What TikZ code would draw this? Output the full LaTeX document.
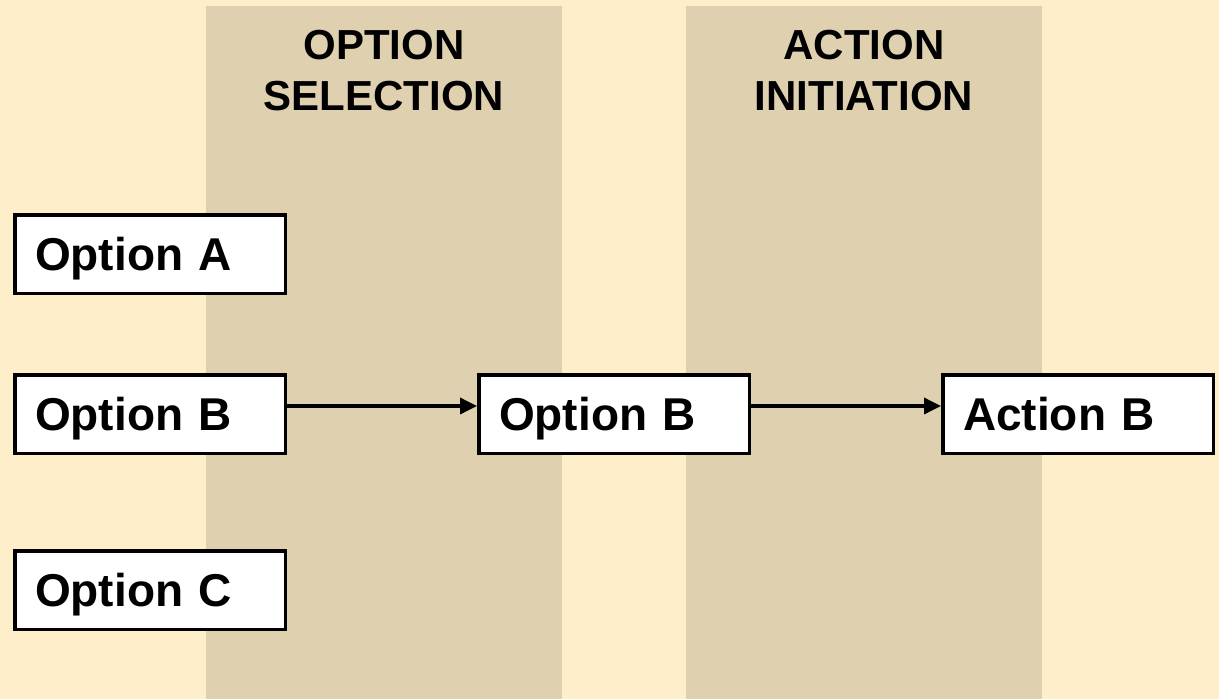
\documentclass[tikz,border=0pt]{standalone}
\usepackage{fontspec}
\setmainfont{Liberation Sans}
\usetikzlibrary{arrows.meta}
\definecolor{paper}{HTML}{FEEECA}
\definecolor{band}{HTML}{DFD1B0}
\tikzset{
  stagebox/.style={draw=black, fill=white, line width=3.5pt, anchor=north west,
    text width=230pt, inner xsep=20.25pt, inner ysep=0pt, align=left,
    minimum height=78.5pt, text height=33pt, text depth=0pt,
    font=\fontsize{46}{50}\selectfont\bfseries},
  header/.style={align=center, font=\fontsize{42}{51}\selectfont\bfseries, inner sep=0pt},
  flow/.style={line width=3.5pt, -{Triangle[length=17pt, width=16pt]}}
}
\begin{document}
\begin{tikzpicture}[x=1pt, y=-1pt]
  % page and phase bands
  \fill[paper] (0,0) rectangle (1219,699);
  \useasboundingbox (0,0) rectangle (1219,699);
  \fill[band] (206,6) rectangle (562,699);
  \fill[band] (686,6) rectangle (1042,699);

  % phase headings (base = baseline of the last line)
  \node[header, anchor=base] (hsel) at (384,110) {OPTION\\SELECTION};
  \node[header, anchor=base] (hact) at (864,110) {ACTION\\INITIATION};

  % options and outcome (anchored at the outer edge of the frame)
  \node[stagebox] (optA) at (13,213) {Option A};
  \node[stagebox] (optB) at (13,373) {Option B};
  \node[stagebox] (optC) at (13,549) {Option C};
  \node[stagebox] (selB) at (477,373) {Option B};
  \node[stagebox] (actB) at (941,373) {Action B};

  % flow, running a little above the frames' middle
  \draw[flow] ([yshift=8pt]optB.east) -- ([yshift=8pt]selB.west);
  \draw[flow] ([yshift=8pt]selB.east) -- ([yshift=8pt]actB.west);
\end{tikzpicture}
\end{document}
